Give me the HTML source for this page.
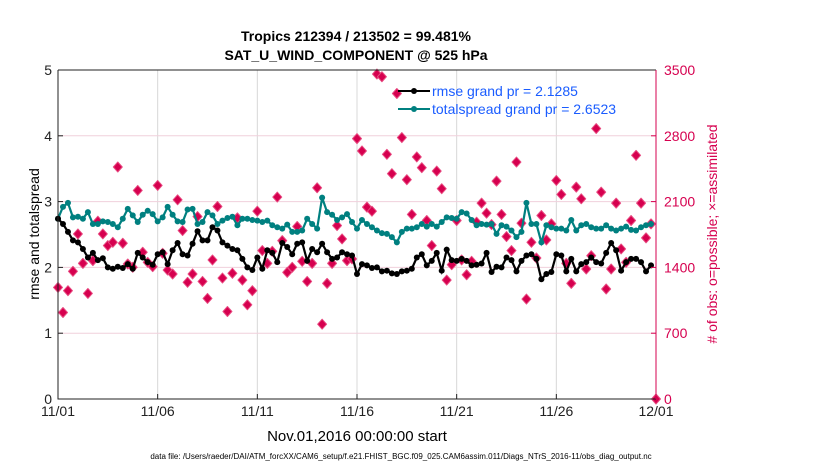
<!DOCTYPE html>
<html><head><meta charset="utf-8"><style>
body{margin:0;background:#fff;}
svg text{font-family:"Liberation Sans",Arial,sans-serif;}
</style></head><body>
<svg width="830" height="470" viewBox="0 0 830 470" xmlns="http://www.w3.org/2000/svg">
<g id="grid"></g>
<g id="obs"></g>
<g id="lines"></g>
<g id="axes"></g>
<text x="356" y="41" text-anchor="middle" font-size="14" font-weight="bold">Tropics 212394 / 213502 = 99.481%</text>
<text x="356" y="60" text-anchor="middle" font-size="14" font-weight="bold">SAT_U_WIND_COMPONENT @ 525 hPa</text>
<text transform="translate(39,234) rotate(-90)" text-anchor="middle" font-size="14">rmse and totalspread</text>
<text transform="translate(717,234) rotate(-90)" text-anchor="middle" font-size="14" fill="#d6004f"># of obs: o=possible; ×=assimilated</text>
<text x="357" y="441" text-anchor="middle" font-size="15">Nov.01,2016 00:00:00 start</text>
<text x="401" y="459" text-anchor="middle" font-size="8">data file: /Users/raeder/DAI/ATM_forcXX/CAM6_setup/f.e21.FHIST_BGC.f09_025.CAM6assim.011/Diags_NTrS_2016-11/obs_diag_output.nc</text>
<g>
<line x1="398" y1="91" x2="430" y2="91" stroke="#000" stroke-width="2"/><circle cx="414" cy="91" r="3" fill="#000"/>
<text x="432" y="96" font-size="14" fill="#1a5cff">rmse grand pr = 2.1285</text>
<line x1="398" y1="109" x2="430" y2="109" stroke="#008080" stroke-width="2"/><circle cx="414" cy="109" r="3" fill="#008080"/>
<text x="432" y="114" font-size="14" fill="#1a5cff">totalspread grand pr = 2.6523</text>
</g>
</svg>
<script>
const rmse=[2.74,2.66,2.54,2.41,2.38,2.28,2.15,2.22,2.11,2.14,2.0,1.98,2.01,1.99,2.05,1.98,2.22,2.15,2.08,2.04,2.2,2.23,2.05,2.26,2.37,2.2,2.18,2.36,2.55,2.41,2.41,2.61,2.56,2.38,2.33,2.28,2.26,2.13,2.0,1.96,2.15,1.98,2.26,2.22,2.08,2.37,2.31,2.2,2.36,2.38,2.1,2.28,2.23,2.36,2.23,2.13,2.15,2.23,2.2,2.18,1.9,
2.05,2.03,1.99,2.0,1.94,1.95,1.91,1.9,1.94,1.95,1.98,2.15,2.2,2.03,2.1,2.22,1.95,2.27,2.11,2.1,2.13,2.1,2.03,2.04,2.06,2.22,1.93,2.01,2.0,2.15,2.11,1.94,2.1,2.18,2.2,2.13,1.82,1.9,1.93,2.2,2.18,1.94,2.13,1.94,2.05,2.08,2.15,2.08,2.06,2.22,2.37,2.26,1.95,2.08,2.13,2.13,2.08,1.94,2.03];
const spread=[2.74,2.92,2.98,2.76,2.77,2.74,2.84,2.66,2.66,2.7,2.69,2.66,2.61,2.74,2.89,2.79,2.69,2.8,2.86,2.81,2.7,2.76,2.92,2.8,2.7,2.69,2.88,2.89,2.66,2.69,2.84,2.79,2.66,2.71,2.75,2.77,2.64,2.74,2.74,2.72,2.71,2.69,2.71,2.64,2.61,2.59,2.65,2.54,2.54,2.56,2.74,2.66,2.59,3.06,2.84,2.8,2.72,2.76,2.81,2.69,2.59,
2.72,2.66,2.61,2.56,2.52,2.51,2.46,2.38,2.54,2.59,2.59,2.61,2.66,2.62,2.66,2.62,2.69,2.76,2.75,2.74,2.84,2.82,2.72,2.64,2.66,2.65,2.66,2.51,2.64,2.62,2.56,2.46,2.54,2.98,2.66,2.66,2.38,2.64,2.61,2.59,2.59,2.56,2.72,2.56,2.64,2.66,2.61,2.59,2.59,2.64,2.59,2.56,2.59,2.62,2.57,2.56,2.61,2.64,2.66];
const obsCount=[1187,920,1152,1358,1756,1443,1123,1472,1892,1756,1632,1667,2468,1657,1436,1401,2219,1561,1454,1408,2272,1550,1372,1330,2119,1792,1241,1330,1941,1251,1070,1479,2048,1287,931,1337,1927,1265,1002,1152,1998,1579,1443,1571,2148,1685,1347,1401,1835,1465,1251,1443,2247,796,1230,1443,1845,1703,1472,1490,2770,
2639,2041,1998,3457,3428,2603,2397,3250,2781,2333,1963,2575,2461,1899,1632,2425,2237,1265,1429,1899,1479,1322,1465,1881,2084,1977,1856,2318,1963,1728,1579,2521,1870,1063,1667,1500,1952,1692,1863,2325,2176,1443,1230,2254,2130,1383,1525,2877,2201,1170,1383,2084,1596,1454,1899,2592,2084,1714,1863,0];
const xTickLabels=["11/01","11/06","11/11","11/16","11/21","11/26","12/01"];
const xTickDays=[0,5,10,15,20,25,30];
const yTicks=[0,1,2,3,4,5];
const y2Ticks=[0,700,1400,2100,2800,3500];

const NS="http://www.w3.org/2000/svg";
const X0=58,X1=656,Y0=399,Y1=70;
const xs=d=>X0+(X1-X0)*d/30;
const ys=v=>Y0-(Y0-Y1)*v/5;
const y2s=v=>Y0-(Y0-Y1)*v/3500;
function mk(tag,attrs,parent){const e=document.createElementNS(NS,tag);for(const k in attrs)e.setAttribute(k,attrs[k]);parent.appendChild(e);return e;}
const grid=document.getElementById('grid'),axes=document.getElementById('axes'),obsG=document.getElementById('obs'),lines=document.getElementById('lines');
xTickDays.forEach((d,i)=>{
 const g=mk('line',{x1:xs(d),x2:xs(d),y1:Y1,y2:Y0,stroke:'#d8d8d8','stroke-width':1},grid);
 
 
 mk('line',{x1:xs(d),x2:xs(d),y1:Y0,y2:Y0-5,stroke:'#222'},axes);
 const t=mk('text',{x:xs(d),y:416,'text-anchor':'middle','font-size':14,fill:'#222'},axes);
 t.textContent=xTickLabels[i];
 
 
});
yTicks.forEach(v=>{
 if(v>0&&v<5){const g=mk('line',{x1:X0,x2:X1,y1:ys(v),y2:ys(v),stroke:'#f0d0dc','stroke-width':1},grid);
 
 }
 mk('line',{x1:X0,x2:X0+5,y1:ys(v),y2:ys(v),stroke:'#222'},axes);
 const t=mk('text',{x:52,y:ys(v)+5,'text-anchor':'end','font-size':14,fill:'#222'},axes);
 t.textContent=v;
 
 
});
y2Ticks.forEach(v=>{
 mk('line',{x1:X1,x2:X1-5,y1:y2s(v),y2:y2s(v),stroke:'#d6004f'},axes);
 const t=mk('text',{x:664,y:y2s(v)+5,'font-size':14,fill:'#d6004f'},axes);
 t.textContent=v;
 
 
});
mk('path',{d:`M${X0},${Y1}V${Y0}H${X1}`,fill:'none',stroke:'#222','stroke-width':1},axes);
mk('line',{x1:X0,x2:X1,y1:Y1,y2:Y1,stroke:'#222'},axes);
mk('line',{x1:X1,x2:X1,y1:Y1,y2:Y0,stroke:'#d6004f'},axes);
obsCount.forEach((v,i)=>{
 const x=xs(i*0.25),y=y2s(v);
 const p=mk('path',{d:`M${x},${y-5}L${x+4.5},${y}L${x},${y+5}L${x-4.5},${y}Z`,fill:'#d6004f',stroke:'#e84a80','stroke-width':1,'stroke-linejoin':'round'},obsG);
 
 
});
function series(arr,color,name){
 const pts=arr.map((v,i)=>[xs(i*0.25),ys(v)]);
 const l=mk('polyline',{points:pts.map(p=>p.join(',')).join(' '),fill:'none',stroke:color,'stroke-width':2.2},lines);
 
 
 pts.forEach(p=>{const c=mk('circle',{cx:p[0],cy:p[1],r:3,fill:color},lines);
 
 });
}
series(spread,'#008080','totalspread');
series(rmse,'#000','rmse');
</script>
</body></html>
